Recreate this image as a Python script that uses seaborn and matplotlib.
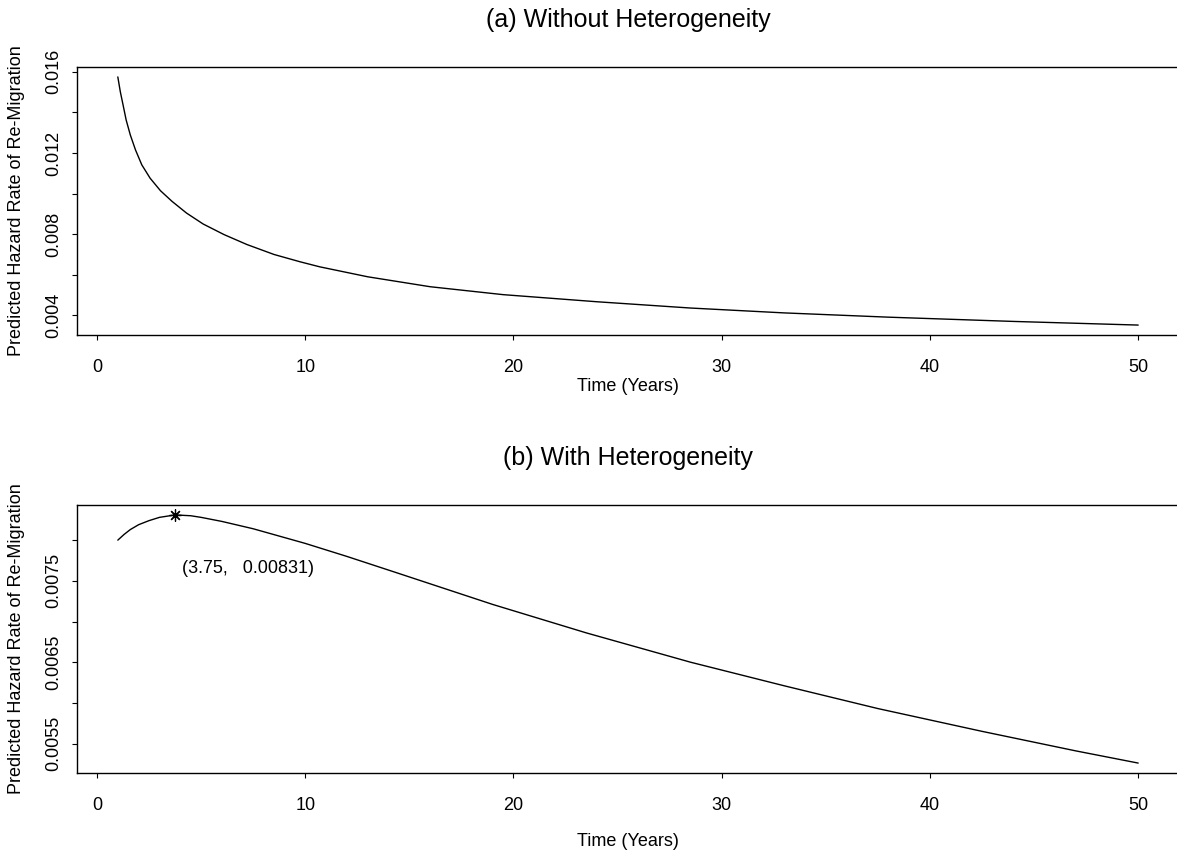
import matplotlib
matplotlib.use("Agg")
import matplotlib.pyplot as plt
import seaborn as sns
import pandas as pd
import numpy as np

# panel (a): hazard without heterogeneity
time_a = [1, 1.12, 1.25, 1.4, 1.6, 1.85, 2.15, 2.55, 3.05, 3.6, 4.3, 5.1, 6.1, 7.2, 8.5, 9.75,
          10.7, 13, 16, 19.5, 24, 28.5, 33, 38, 44, 50]
hazard_a = [0.01575, 0.01502, 0.01438, 0.01363, 0.01289, 0.01215, 0.01142, 0.01076, 0.01014, 0.00962,
            0.00904, 0.00850, 0.00798, 0.00749, 0.00700, 0.00664, 0.00639, 0.00590, 0.00541, 0.00502,
            0.00467, 0.00436, 0.00412, 0.00391, 0.00370, 0.00352]

# panel (b): hazard with heterogeneity
time_b = [1, 1.3, 1.6, 2, 2.5, 3, 3.75, 4.5, 5, 6, 7.5, 8.75, 10, 12, 14.5, 19, 23.5, 28.5, 33,
          37.5, 42.5, 47, 50]
hazard_b = [0.00800, 0.00807, 0.00813, 0.00819, 0.00824, 0.00828, 0.00831, 0.00830, 0.00828, 0.00823,
            0.00814, 0.00805, 0.00796, 0.00780, 0.00759, 0.00721, 0.00686, 0.00650, 0.00621, 0.00593,
            0.00565, 0.00541, 0.00526]

peak_t = 3.75
peak_h = 0.00831

xticks = [0, 10, 20, 30, 40, 50]
yticks_a = [0.004, 0.006, 0.008, 0.010, 0.012, 0.014, 0.016]
ylabels_a = ["0.004", "", "0.008", "", "0.012", "", "0.016"]
yticks_b = [0.0055, 0.0060, 0.0065, 0.0070, 0.0075, 0.0080]
ylabels_b = ["0.0055", "", "0.0065", "", "0.0075", ""]

df_a = pd.DataFrame({"t": time_a, "h": hazard_a})
df_b = pd.DataFrame({"t": time_b, "h": hazard_b})

sns.set_theme(style="ticks")
plt.rcParams["font.family"] = ["Liberation Sans", "DejaVu Sans"]
plt.rcParams.update({"text.color": "black", "axes.labelcolor": "black",
                     "xtick.color": "black", "ytick.color": "black",
                     "axes.edgecolor": "black"})

W, H = 1177, 855
fig = plt.figure(figsize=(W / 100, H / 100), dpi=100)
ax1 = fig.add_axes([77 / W, (H - 335) / H, (1179 - 77) / W, 268 / H])
ax2 = fig.add_axes([77 / W, (H - 773) / H, (1179 - 77) / W, 268 / H])

sns.lineplot(data=df_a, x="t", y="h", ax=ax1, color="black", linewidth=1.0)
sns.lineplot(data=df_b, x="t", y="h", ax=ax2, color="black", linewidth=1.0)
sns.scatterplot(x=[peak_t], y=[peak_h], ax=ax2, marker=(8, 2, 0), s=70,
                color="black", linewidth=0.9, zorder=5)
ax2.text(peak_t + 3.5, peak_h - 0.00066, f"({peak_t},   {peak_h})",
         ha="center", va="center", fontsize=13)


def pad_lim(vals):
    lo, hi = min(vals), max(vals)
    r = (hi - lo) * 0.04
    return lo - r, hi + r


panels = [(ax1, "(a) Without Heterogeneity", df_a, yticks_a, ylabels_a, -0.16),
          (ax2, "(b) With Heterogeneity", df_b, yticks_b, ylabels_b, -0.225)]
for ax, title, df, yt, yl, xlab_y in panels:
    ax.set_xlim(*pad_lim(df["t"]))
    ax.set_ylim(*pad_lim(df["h"]))
    ax.set_xticks(xticks)
    ax.set_xticklabels([str(v) for v in xticks])
    ax.set_yticks(yt)
    ax.set_yticklabels(yl)
    for s in ax.spines.values():
        s.set_visible(True)
        s.set_linewidth(1.0)
        s.set_color("black")
    ax.tick_params(axis="both", direction="out", length=3.6, width=0.8, labelsize=13, color="black")
    ax.tick_params(axis="x", pad=13.5)
    ax.tick_params(axis="y", pad=7, labelrotation=90)
    for lab in ax.get_yticklabels():
        lab.set_va("center")
    ax.set_xlabel("Time (Years)", fontsize=13)
    ax.set_ylabel("Predicted Hazard Rate of Re-Migration", fontsize=13)
    ax.xaxis.set_label_coords(0.5, xlab_y)
    ax.yaxis.set_label_coords(-0.047, 0.5)
    ax.text(0.5, 1.175, title, transform=ax.transAxes, ha="center", va="center", fontsize=18)
    ax.grid(False)

fig.savefig("out.png", dpi=100)
